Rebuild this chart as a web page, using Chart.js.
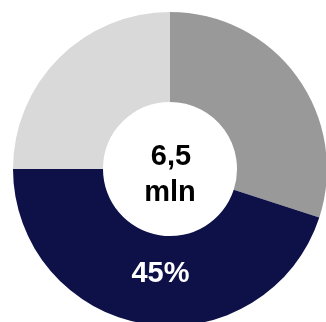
<!DOCTYPE html>
<html>
<head>
<meta charset="utf-8">
<script src="https://cdn.jsdelivr.net/npm/chart.js@4/dist/chart.umd.min.js"></script>
<style>
  html, body { margin: 0; padding: 0; background: #ffffff; overflow: hidden; }
  #wrap { position: relative; width: 326px; height: 322px; overflow: hidden; }
  canvas { position: absolute; left: 0; top: 0; }
</style>
</head>
<body>
<div id="wrap"><canvas id="c" width="340" height="340"></canvas></div>
<script>
// Segment data (share of total, %)
const categories = ['A', 'B', 'C'];
const shares = [30, 45, 25];
const segmentColors = ['#999999', '#0d1148', '#d9d9d9'];
const showShareLabel = [false, true, false];
// Total shown in the hole
const centerLines = ['6,5', 'mln'];

const FONT = '"Liberation Sans", Arial, Helvetica, sans-serif';

const labelsPlugin = {
  id: 'ringLabels',
  afterDatasetsDraw(chart) {
    const ctx = chart.ctx;
    const meta = chart.getDatasetMeta(0);
    ctx.save();
    ctx.font = 'bold 29px ' + FONT;
    ctx.textAlign = 'center';
    ctx.textBaseline = 'alphabetic';
    ctx.fillStyle = '#ffffff';
    meta.data.forEach((arc, i) => {
      if (!showShareLabel[i]) return;
      const p = arc.getProps(['x', 'y', 'startAngle', 'endAngle', 'innerRadius', 'outerRadius'], true);
      const a = p.startAngle + (p.endAngle - p.startAngle) * 0.477;
      const r = p.innerRadius + (p.outerRadius - p.innerRadius) * 0.41;
      ctx.fillText(shares[i] + '%', p.x + Math.cos(a) * r, p.y + Math.sin(a) * r + 10);
    });
    // centre total
    const c = meta.data[0];
    ctx.fillStyle = '#000000';
    ctx.fillText(centerLines[0], c.x + 1, c.y - 4);
    ctx.fillText(centerLines[1], c.x, c.y + 32);
    ctx.restore();
  }
};

new Chart(document.getElementById('c'), {
  type: 'doughnut',
  data: {
    labels: categories,
    datasets: [{
      data: shares,
      backgroundColor: segmentColors,
      borderWidth: 0,
      hoverOffset: 0
    }]
  },
  options: {
    responsive: false,
    animation: false,
    cutout: 67,
    layout: { padding: { left: 13, right: 13, top: 12, bottom: 14 } },
    plugins: {
      legend: { display: false },
      tooltip: { enabled: false }
    }
  },
  plugins: [labelsPlugin]
});
</script>
</body>
</html>
